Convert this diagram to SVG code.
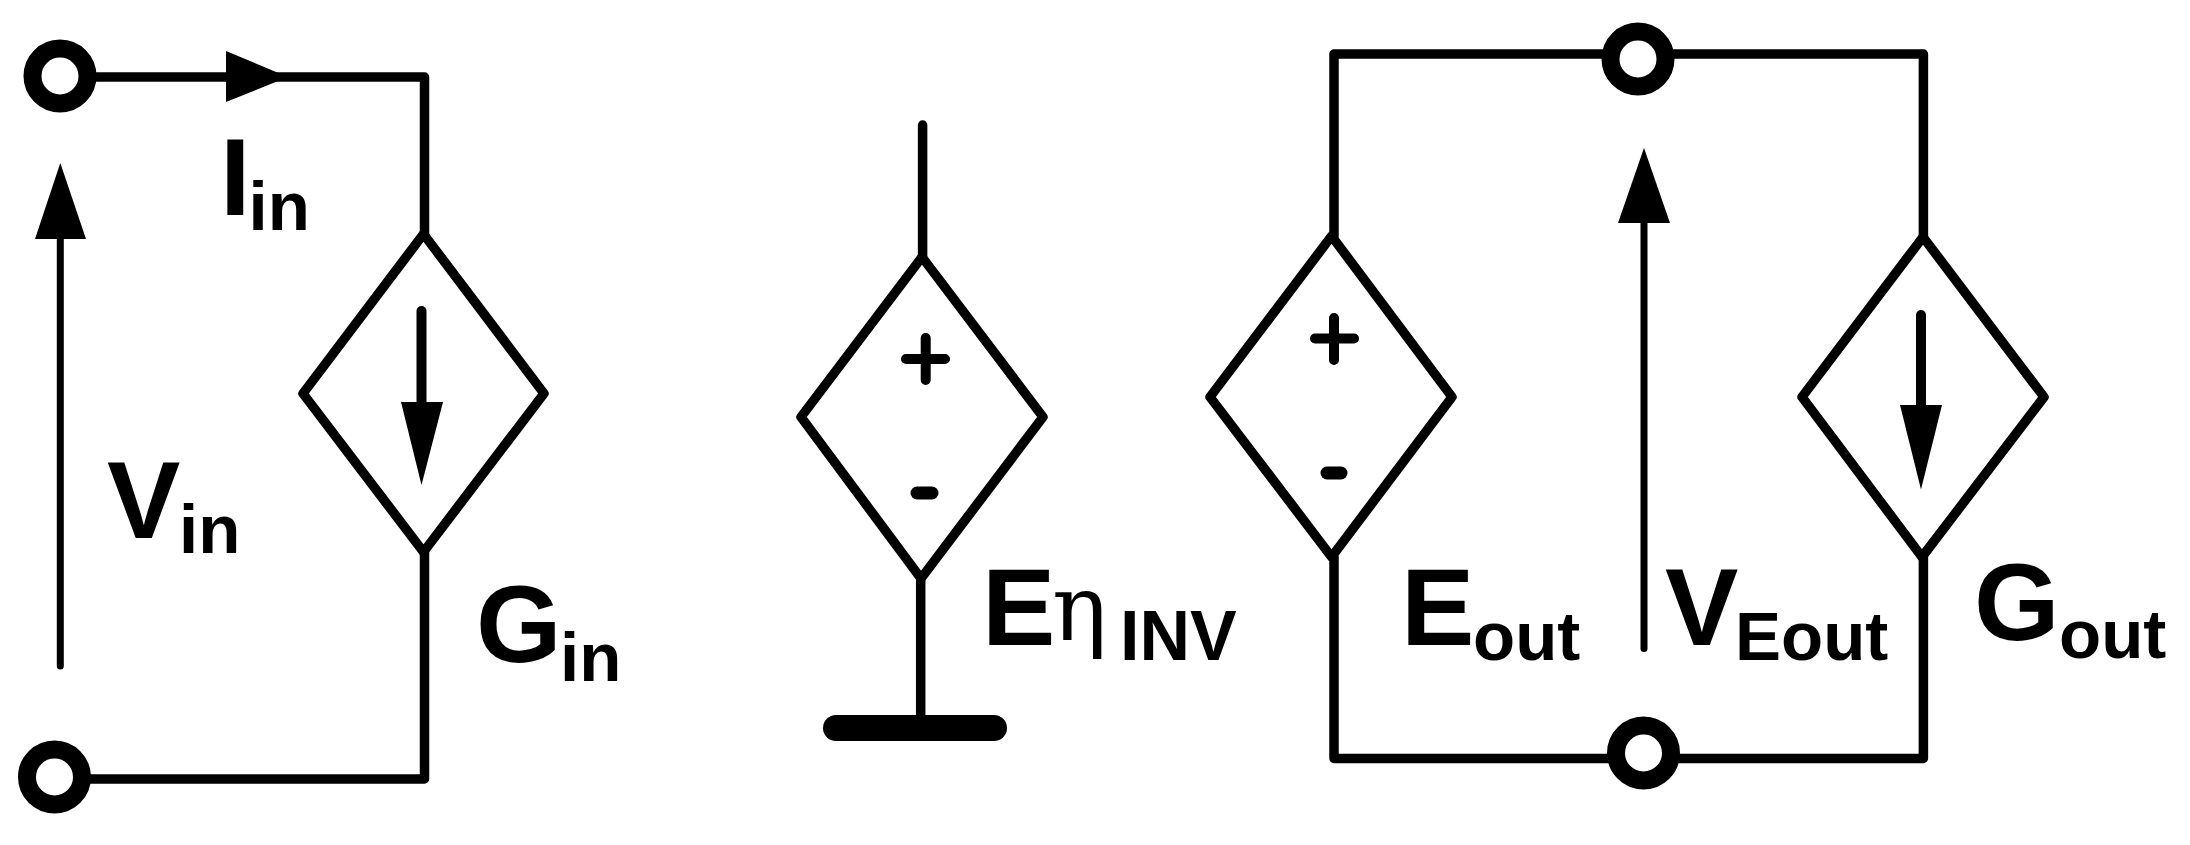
<svg xmlns="http://www.w3.org/2000/svg" width="2190" height="845" viewBox="0 0 2190 845">
<style>
.w{fill:none;stroke:#000;stroke-width:9.5;stroke-linecap:round;stroke-linejoin:round}
.t{fill:none;stroke:#000;stroke-width:7;stroke-linecap:round}
.d{fill:#fff;stroke:#000;stroke-width:9.5;stroke-linejoin:round}
.c{fill:#fff;stroke:#000;stroke-width:18}
.h{fill:#000;stroke:none}
.s{fill:none;stroke:#000;stroke-width:10;stroke-linecap:round}
.m{fill:none;stroke:#000;stroke-width:13;stroke-linecap:round}
text{font-family:"Liberation Sans",Arial,sans-serif;font-weight:700;fill:#000}
.b{font-size:110px}
.u{font-size:69px}
.g{font-family:"DejaVu Serif","Liberation Serif",serif;font-size:92px;font-weight:400}
</style>
<rect width="2190" height="845" fill="#fff"/>
<g id="connectors">
<path class="w" d="M60 77H424.500V234"/>
<path class="w" d="M424.500 552V779H54"/>
<path class="h" d="M226 51L288 77L226 102Z"/>
<path class="t" d="M60.300 666V235"/>
<path class="h" d="M35 239H86L60.300 163Z"/>
<path class="w" d="M922.600 125V257"/>
<path class="w" d="M920.700 578V722"/>
<path class="w" d="M1638 54H1334V236M1334 557V758.500H1643M1638 54H1923.400V237M1923.400 557V758.500H1643"/>
<path class="t" d="M1644 648.500V220"/>
<path class="h" d="M1618 223H1670L1644 148Z"/>
</g>
<g id="terminal-in-top"><circle class="c" cx="60" cy="76" r="27.500"/></g>
<g id="terminal-in-bottom"><circle class="c" cx="54.500" cy="777" r="27.500"/></g>
<g id="terminal-out-top"><circle class="c" cx="1638" cy="59" r="27.500"/></g>
<g id="terminal-out-bottom"><circle class="c" cx="1643.500" cy="753" r="27.500"/></g>
<g id="source-gin">
<path class="d" d="M423.500 234L544 393.500L423.500 552L303 393.500Z"/>
<path class="s" d="M421.500 311V410"/>
<path class="h" d="M401 402H443L421.500 485Z"/>
<text class="b" x="476" y="662">G</text><text class="u" x="560" y="681">in</text>
</g>
<g id="label-iin"><text class="b" x="220" y="214.500">I</text><text class="u" x="248.500" y="230">in</text></g>
<g id="label-vin"><text class="b" x="107" y="537.500">V</text><text class="u" x="179" y="552.500">in</text></g>
<g id="source-eeta">
<path class="d" d="M922 257L1043 417L921 578.500L801 417Z"/>
<path class="s" d="M906 359H945M925.700 338V380"/>
<path class="m" d="M917 493H932"/>
<path class="w" style="stroke-width:26" d="M836 728H994"/>
<text class="b" x="982" y="645">E</text><text class="g" x="1052" y="640">η</text><text class="u" style="font-size:70px" x="1120" y="659.500">INV</text>
</g>
<g id="source-eout">
<path class="d" d="M1331.600 236L1452 397L1331.600 557L1210 397Z"/>
<path class="s" d="M1315 338.500H1354M1334 318V360"/>
<path class="m" d="M1327 473H1341"/>
<text class="b" x="1401" y="645">E</text><text class="u" x="1473" y="660">out</text>
</g>
<g id="label-veout"><text class="b" x="1665" y="645">V</text><text class="u" x="1735" y="660">Eout</text></g>
<g id="source-gout">
<path class="d" d="M1923 237L2044 397L1922 557L1802 397Z"/>
<path class="s" d="M1921 315V415"/>
<path class="h" d="M1900 405H1942L1921 489.500Z"/>
<text class="b" x="1974" y="640">G</text><text class="u" x="2059" y="657.500">out</text>
</g>
</svg>
